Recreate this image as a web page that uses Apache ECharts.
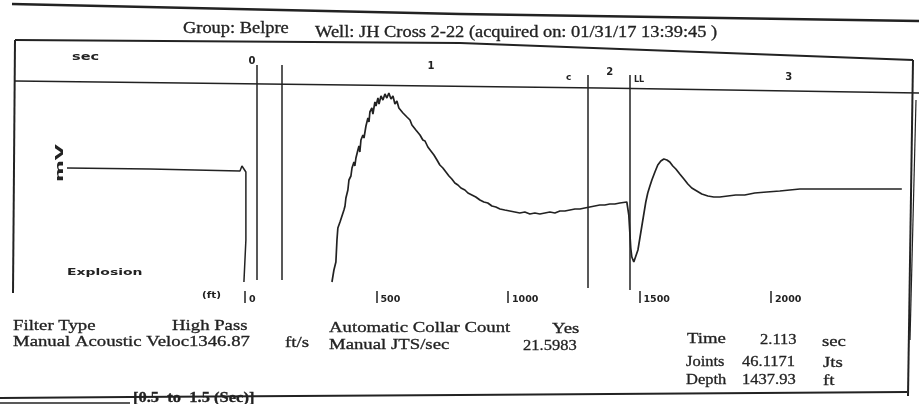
<!DOCTYPE html>
<html>
<head>
<meta charset="utf-8">
<script src="https://cdn.jsdelivr.net/npm/echarts@6/dist/echarts.min.js"></script>
<style>
  html, body { margin: 0; background: #fff; }
  #chart { width: 919px; height: 404px; }
</style>
</head>
<body>
<div id="chart"></div>
<script>
// time axis (sec, top) and depth axis (ft, bottom)
const timeTicks = [0, 1, 2, 3];
const depthTicks = [0, 500, 1000, 1500, 2000];

// trace before the shot: [sec, amplitude]
const preShot = [
  [-1.034, 32], [-0.570, 31], [-0.067, 29], [-0.056, 34],
  [-0.034, 28], [-0.034, -40], [-0.045, -82]
];

// acoustic trace after the shot: [sec, amplitude]
const echoTrace = [
  [0.447, -82], [0.458, -70], [0.469, -62], [0.475, -40], [0.480, -28],
  [0.492, -22], [0.503, -16], [0.514, -10], [0.520, -6], [0.525, 2],
  [0.536, 10], [0.542, 20], [0.553, 24], [0.559, 32], [0.570, 38],
  [0.575, 34], [0.581, 42], [0.592, 50], [0.598, 54], [0.603, 48],
  [0.609, 60], [0.620, 65], [0.626, 62], [0.637, 74], [0.648, 82],
  [0.654, 78], [0.659, 88], [0.670, 92], [0.676, 86], [0.687, 98],
  [0.693, 94], [0.704, 102], [0.710, 96], [0.721, 104], [0.732, 100],
  [0.743, 106], [0.754, 102], [0.765, 107], [0.777, 101], [0.788, 104],
  [0.799, 96], [0.810, 99], [0.821, 92], [0.832, 94], [0.844, 87],
  [0.855, 89], [0.866, 83], [0.883, 80], [0.894, 75], [0.905, 76],
  [0.916, 70], [0.927, 69], [0.939, 65], [0.955, 60], [0.967, 59],
  [0.983, 53], [1.000, 49], [1.017, 45], [1.034, 40], [1.050, 35],
  [1.067, 32], [1.084, 28], [1.101, 24], [1.117, 21], [1.134, 17],
  [1.151, 15], [1.168, 12], [1.190, 10], [1.207, 7], [1.229, 5],
  [1.251, 3], [1.274, 0], [1.296, -2], [1.318, -3], [1.341, -6],
  [1.363, -7], [1.386, -9], [1.413, -10], [1.441, -11], [1.469, -12],
  [1.497, -13], [1.525, -12], [1.553, -14], [1.581, -13], [1.609, -14],
  [1.637, -13], [1.665, -12], [1.693, -13], [1.721, -11], [1.749, -11],
  [1.777, -10], [1.805, -9], [1.833, -9], [1.860, -8], [1.888, -7],
  [1.916, -6], [1.944, -5], [1.972, -5], [2.000, -4], [2.028, -4],
  [2.056, -3], [2.095, -2], [2.106, -15], [2.112, -33], [2.117, -48],
  [2.123, -57], [2.134, -62], [2.145, -60], [2.157, -50], [2.168, -38],
  [2.179, -26], [2.190, -14], [2.201, -2], [2.212, 7], [2.224, 14],
  [2.235, 20], [2.252, 28], [2.268, 35], [2.285, 39], [2.302, 41],
  [2.319, 40], [2.335, 38], [2.352, 34], [2.369, 31], [2.391, 26],
  [2.414, 21], [2.436, 16], [2.458, 12], [2.486, 9], [2.514, 6],
  [2.548, 4], [2.581, 3], [2.615, 3], [2.659, 4], [2.704, 5],
  [2.754, 5], [2.810, 7], [2.877, 8], [2.950, 9], [3.062, 11],
  [3.173, 11], [3.285, 11], [3.397, 11], [3.508, 11], [3.632, 11]
];

// marker lines: [sec, top amplitude, bottom amplitude]
const markers = [
  [0.028, 135, -80],
  [0.168, 135, -80],
  [1.877, 125, -88],
  [2.113, 125, -90]
];

const ink = '#222';
const serif = '"Liberation Serif", "DejaVu Serif", serif';
const sans = '"DejaVu Sans", sans-serif';

function txt(x, y, text, size, opts) {
  opts = opts || {};
  const isSerif = !opts.family;
  return {
    type: 'text', x: x, y: y, z: 20, rotation: opts.rotation || 0,
    scaleX: opts.sx || 1,
    style: {
      text: text, fill: ink, fontSize: size,
      fontFamily: opts.family || serif,
      fontWeight: opts.weight || 'normal',
      stroke: isSerif ? ink : null, lineWidth: isSerif ? 0.3 : 0,
      verticalAlign: 'middle', align: opts.align || 'left'
    }
  };
}
function line(points, w) {
  return {
    type: 'polyline', z: 20, silent: true,
    shape: { points: points },
    style: { stroke: ink, lineWidth: w, fill: null }
  };
}

const chart = echarts.init(document.getElementById('chart'));
const info = { sx: 1.25 };
const num = { sx: 1.1 };
const blob = { family: sans, weight: 'bold' };

// the scanned page is slightly tilted, so the time labels drop to the right
const timeLabelRich = {};
timeTicks.forEach((v, i) => {
  timeLabelRich['t' + i] = { padding: [i * 5.5, 0, 0, 0] };
});

chart.setOption({
  animation: false,
  backgroundColor: '#fff',
  grid: { left: 14, right: 5, top: 52, bottom: 113 },
  xAxis: [
    {
      type: 'value', position: 'top', min: -1.33, max: 3.70,
      axisLine: { show: false }, axisTick: { show: false }, splitLine: { show: false },
      axisLabel: {
        inside: true, margin: 4, customValues: timeTicks,
        formatter: v => '{t' + timeTicks.indexOf(v) + '|' + v + '}',
        rich: timeLabelRich,
        color: ink, fontFamily: sans, fontWeight: 'bold', fontSize: 10
      }
    },
    {
      type: 'value', position: 'bottom', min: -878, max: 2544,
      axisLine: { show: false }, splitLine: { show: false },
      axisTick: { show: true, customValues: depthTicks, length: 12, lineStyle: { color: ink, width: 1.5 } },
      axisLabel: {
        customValues: depthTicks, margin: 4, align: 'left', padding: [0, 0, 0, 4],
        formatter: v => String(v),
        color: ink, fontFamily: sans, fontWeight: 'bold', fontSize: 9.5
      }
    }
  ],
  yAxis: { type: 'value', min: -91, max: 148, show: false },
  series: [
    {
      type: 'line', xAxisIndex: 0, data: preShot, showSymbol: false,
      lineStyle: { color: ink, width: 1.5 }
    },
    {
      type: 'line', xAxisIndex: 0, data: echoTrace, showSymbol: false,
      lineStyle: { color: ink, width: 1.7 },
      markLine: {
        silent: true, symbol: 'none', label: { show: false },
        lineStyle: { color: ink, width: 1.5, type: 'solid' },
        data: markers.map(m => [{ coord: [m[0], m[1]] }, { coord: [m[0], m[2]] }])
      }
    }
  ],
  graphic: [
    // scanned frame
    line([[12, 4], [460, 14], [919, 21]], 2.5),
    line([[15, 40], [460, 43], [913, 60]], 2),
    line([[15, 40], [13, 293]], 2),
    line([[15, 81], [600, 88], [919, 93]], 1.5),
    line([[913, 60], [908, 396]], 2),
    line([[916, 100], [910, 340]], 1.2),
    line([[0, 398], [130, 397], [460, 395], [907, 392]], 2),
    line([[0, 403], [130, 403]], 1.5),
    // header
    txt(183, 29, 'Group: Belpre', 16, { sx: 1.15 }),
    txt(315, 33, 'Well: JH Cross 2-22 (acquired on: 01/31/17 13:39:45 )', 16, { sx: 1.15 }),
    txt(72, 57, 'sec', 10, { family: sans, weight: 'bold', sx: 1.45 }),
    txt(566, 78, 'c', 9, blob),
    txt(634, 80, 'LL', 8, blob),
    txt(60, 163, 'mV', 11, { family: sans, weight: 'bold', rotation: Math.PI / 2, align: 'center', sx: 1.9 }),
    txt(67, 273, 'Explosion', 9, { family: sans, weight: 'bold', sx: 1.55 }),
    txt(202, 296, '(ft)', 8, { family: sans, weight: 'bold', sx: 1.3 }),
    // info block
    txt(13, 326, 'Filter Type', 15, info),
    txt(172, 326, 'High Pass', 15, info),
    txt(13, 342, 'Manual Acoustic Veloc1346.87', 15, info),
    txt(285, 343, 'ft/s', 15, info),
    txt(329, 328, 'Automatic Collar Count', 15, info),
    txt(552, 329, 'Yes', 15, info),
    txt(329, 345, 'Manual JTS/sec', 15, info),
    txt(523, 346, '21.5983', 15, num),
    txt(687, 339, 'Time', 15, info),
    txt(760, 340, '2.113', 15, num),
    txt(822, 342, 'sec', 15, info),
    txt(686, 362, 'Joints', 15, { sx: 1.1 }),
    txt(742, 362, '46.1171', 15, num),
    txt(823, 363, 'Jts', 15, info),
    txt(686, 380, 'Depth', 15, { sx: 1.1 }),
    txt(742, 380, '1437.93', 15, num),
    txt(823, 381, 'ft', 15, info),
    txt(133, 398, '[0.5  to  1.5 (Sec)]', 15, { weight: 'bold', sx: 1.1 })
  ]
});
</script>
</body>
</html>
